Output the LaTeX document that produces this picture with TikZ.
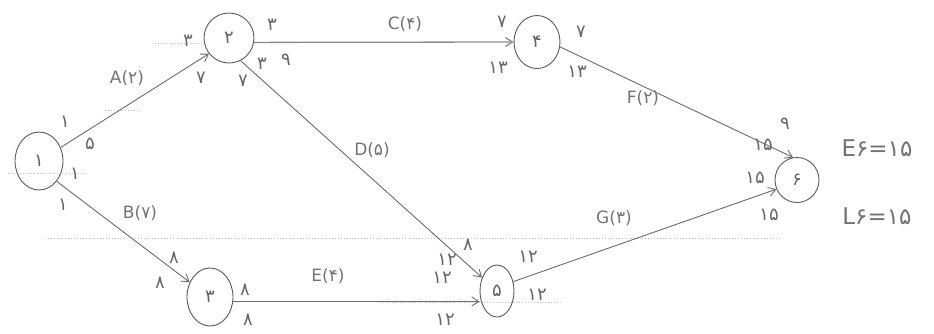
\documentclass[tikz,border=0pt]{standalone}
\usepackage{fontspec}
\setmainfont{DejaVu Sans}
\usetikzlibrary{arrows.meta,shapes.geometric}
\begin{document}
\begin{tikzpicture}[x=1pt,y=-1pt,
  nd/.style={ellipse, draw=black!65, line width=0.9pt, inner sep=0pt, font=\fontsize{18}{18}\selectfont, text=black!62},
  arr/.style={draw=black!58, line width=0.9pt, -{Straight Barb[length=7pt,width=9pt]}},
  num/.style={font=\fontsize{18}{18}\selectfont, text=black!60, inner sep=0pt},
  elab/.style={font=\fontsize{17}{17}\selectfont, text=black!55, inner sep=0pt},
  big/.style={font=\fontsize{23}{23}\selectfont, text=black!55, inner sep=0pt},
  guide/.style={draw=black!22, dotted, line width=0.9pt}]
\useasboundingbox (0,0) rectangle (934,333);
% faint guide lines
\draw[guide] (155,43) -- (203,43);
\draw[guide] (8,173) -- (85,173);
\draw[guide] (45,238) -- (780,238);
\draw[guide] (380,302) -- (560,302);
\draw[guide] (105,110) -- (140,110);
% nodes
\node[nd, minimum width=48pt, minimum height=58pt] (n1) at (39,161) {۱};
\node[nd, minimum width=50pt, minimum height=50pt] (n2) at (229,38) {۲};
\node[nd, minimum width=46pt, minimum height=58pt] (n3) at (210,297) {۳};
\node[nd, minimum width=46pt, minimum height=53pt] (n4) at (537,42) {۴};
\node[nd, minimum width=34pt, minimum height=52pt] (n5) at (497,291) {۵};
\node[nd, minimum width=44pt, minimum height=45pt] (n6) at (797,180) {۶};
% activities
\draw[arr] (n1.32) -- (n2.218);
\draw[arr] (n1.-49) -- (n3.144);
\draw[arr, line width=1.3pt, draw=black!45] (n2.-10) -- (n4.west);
\draw[arr] (n2.-63) -- (n5.138);
\draw[arr] (n3.-11) -- (n3.-11 -| n5.west);
\draw[arr] (n4.-12) -- (n6.100);
\draw[arr] (n5.30) -- (n6.204);
% activity labels
\node[elab] (la) at (127,78) {A(۲)};
\node[elab] (lb) at (140,213) {B(۷)};
\node[elab] (lc) at (405,24) {C(۴)};
\node[elab] (ld) at (372,150) {D(۵)};
\node[elab] (le) at (328,276) {E(۴)};
\node[elab] (lf) at (643,98) {F(۲)};
\node[elab] (lg) at (614,218) {G(۳)};
% times at node 1
\node[num] (t1a) at (65,122) {۱};
\node[num] (t1b) at (90,144) {۵};
\node[num] (t1c) at (75,174) {۱};
\node[num] (t1d) at (63,205) {۱};
% node 2
\node[num] (t2a) at (188,41) {۳};
\node[num] (t2b) at (201,78) {۷};
\node[num] (t2c) at (272,25) {۳};
\node[num] (t2d) at (286,60) {۹};
\node[num] (t2e) at (243,81) {۷};
\node[num] (t2f) at (262,64) {۳};
% node 3
\node[num] (t3a) at (174,258) {۸};
\node[num] (t3b) at (160,283) {۸};
\node[num] (t3c) at (245,290) {۸};
\node[num] (t3d) at (248,320) {۸};
% node 4
\node[num] (t4a) at (502,22) {۷};
\node[num] (t4b) at (498,68) {۱۳};
\node[num] (t4c) at (581,32) {۷};
\node[num] (t4d) at (577,72) {۱۳};
% node 5
\node[num] (t5a) at (468,245) {۸};
\node[num] (t5b) at (447,260) {۱۲};
\node[num] (t5c) at (442,278) {۱۲};
\node[num] (t5d) at (445,320) {۱۲};
\node[num] (t5e) at (528,257) {۱۲};
\node[num] (t5f) at (537,295) {۱۲};
% node 6
\node[num] (t6a) at (785,124) {۹};
\node[num] (t6b) at (763,145) {۱۵};
\node[num] (t6c) at (755,178) {۱۵};
\node[num] (t6d) at (769,215) {۱۵};
% results
\node[big] (e6) at (877,148) {E۶=۱۵};
\node[big] (l6) at (877,216) {L۶=۱۵};
\end{tikzpicture}
\end{document}
